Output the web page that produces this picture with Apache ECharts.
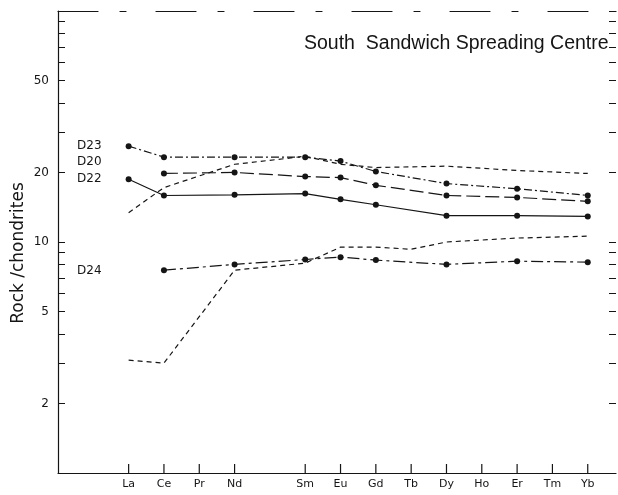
<!DOCTYPE html>
<html>
<head>
<meta charset="utf-8">
<title>South Sandwich Spreading Centre</title>
<style>
  html, body { margin: 0; padding: 0; background: #fff; }
  #chart { width: 618px; height: 495px; }
</style>
</head>
<body>
<div id="chart"></div>
<script src="https://cdn.jsdelivr.net/npm/echarts@6/dist/echarts.min.js"></script>
<script>
// REE order, Pm left blank (no tick)
var elements = ['La', 'Ce', 'Pr', 'Nd', '', 'Sm', 'Eu', 'Gd', 'Tb', 'Dy', 'Ho', 'Er', 'Tm', 'Yb'];
var tickIdx = [0, 1, 2, 3, 5, 6, 7, 8, 9, 10, 11, 12, 13];
var yTicks = [1, 2, 3, 4, 5, 6, 7, 8, 9, 10, 20, 30, 40, 50, 60, 70, 80, 90, 100];
var yLabels = [2, 5, 10, 20, 50];

// chondrite-normalised values
var d23 = [26.0, 23.3, null, 23.3, null, 23.3, 22.4, 20.2, null, 17.9, null, 17.0, null, 15.9];
var d20 = [null, 19.8, null, 20.0, null, 19.2, 19.0, 17.6, null, 15.9, null, 15.6, null, 15.0];
var d22 = [18.7, 15.9, null, 16.0, null, 16.2, 15.3, 14.5, null, 13.0, null, 13.0, null, 12.9];
var d24 = [null, 7.55, null, 8.0, null, 8.4, 8.6, 8.35, null, 8.0, null, 8.26, null, 8.18];
var dashA = [13.4, 17.2, null, 21.7, null, 23.5, 21.7, 21.0, null, 21.3, null, 20.4, null, 19.8];
var dashB = [3.08, 2.99, null, 7.55, null, 8.1, 9.5, 9.5, 9.3, 10.0, null, 10.4, null, 10.6];

var ink = '#151515';
var font = 'DejaVu Sans';

function pairs(arr) {
    return arr.map(function (v, i) { return v == null ? null : [i, v]; })
              .filter(function (p) { return p; });
}

function line(name, arr, dash, marker) {
    return {
        name: name,
        type: 'line',
        data: pairs(arr),
        symbol: marker ? 'circle' : 'none',
        symbolSize: 6,
        itemStyle: { color: ink },
        lineStyle: { color: ink, width: 1.2, type: dash },
        animation: false,
        z: marker ? 3 : 2
    };
}

function label(text, x, y) {
    return { type: 'text', left: x, top: y, style: { text: text, fill: ink, font: '12px DejaVu Sans' } };
}

var chart = echarts.init(document.getElementById('chart'));
chart.setOption({
    backgroundColor: '#fff',
    title: {
        text: 'South  Sandwich Spreading Centre',
        left: 299, top: 29,
        textStyle: { color: ink, fontSize: 19.5, fontWeight: 'normal', fontFamily: 'Liberation Sans' }
    },
    grid: { left: 58, right: 2, top: 11, bottom: 22 },
    xAxis: [{
        type: 'value', min: -2, max: 13.8, position: 'bottom',
        splitLine: { show: false },
        axisLine: { onZero: false, lineStyle: { color: ink, width: 1.2 } },
        axisTick: { show: false },
        axisLabel: {
            customValues: tickIdx, margin: 6, color: ink, fontSize: 11, fontFamily: font,
            formatter: function (v) { return elements[v]; }
        }
    }, {
        type: 'value', min: -2, max: 13.8, position: 'top',
        splitLine: { show: false },
        axisLine: { onZero: false, lineStyle: { color: ink, width: 1.2, type: [40, 22, 6, 30] } },
        axisTick: { show: false },
        axisLabel: { show: false }
    }],
    yAxis: [{
        type: 'log', logBase: 10, min: 1, max: 100, position: 'left',
        splitLine: { show: false },
        axisLine: { onZero: false, lineStyle: { color: ink, width: 1.2 } },
        axisTick: { inside: true, length: 7, customValues: yTicks, lineStyle: { color: ink } },
        axisLabel: { customValues: yLabels, margin: 9, color: ink, fontSize: 12, fontFamily: font }
    }, {
        type: 'log', logBase: 10, min: 1, max: 100, position: 'right',
        splitLine: { show: false },
        axisLine: { onZero: false, show: false },
        axisTick: { inside: true, length: 7, customValues: yTicks, lineStyle: { color: ink } },
        axisLabel: { show: false }
    }],
    graphic: [
        {
            type: 'text', x: 19, y: 253, rotation: Math.PI / 2,
            style: { text: 'Rock /chondrites', fill: ink, font: '17px DejaVu Sans', align: 'center', verticalAlign: 'middle' }
        },
        label('D23', 77, 140),
        label('D20', 77, 156),
        label('D22', 77, 173),
        label('D24', 77, 265)
    ],
    series: [
        // element ticks on the bottom axis, standing up from y = 1
        {
            type: 'custom',
            data: tickIdx.map(function (i) { return [i, 1]; }),
            encode: { x: 0, y: 1 },
            clip: false, silent: true, animation: false, z: 5,
            renderItem: function (params, api) {
                var p = api.coord([api.value(0), api.value(1)]);
                return {
                    type: 'line',
                    shape: { x1: p[0], y1: p[1], x2: p[0], y2: p[1] - 9 },
                    style: { stroke: ink, lineWidth: 1.2 }
                };
            }
        },
        line('D23', d23, [8, 3, 2, 3], true),
        line('D20', d20, [14, 5], true),
        line('D22', d22, 'solid', true),
        line('D24', d24, [12, 4, 3, 4], true),
        line('dashA', dashA, [5, 4], false),
        line('dashB', dashB, [5, 4], false)
    ]
});
</script>
</body>
</html>
